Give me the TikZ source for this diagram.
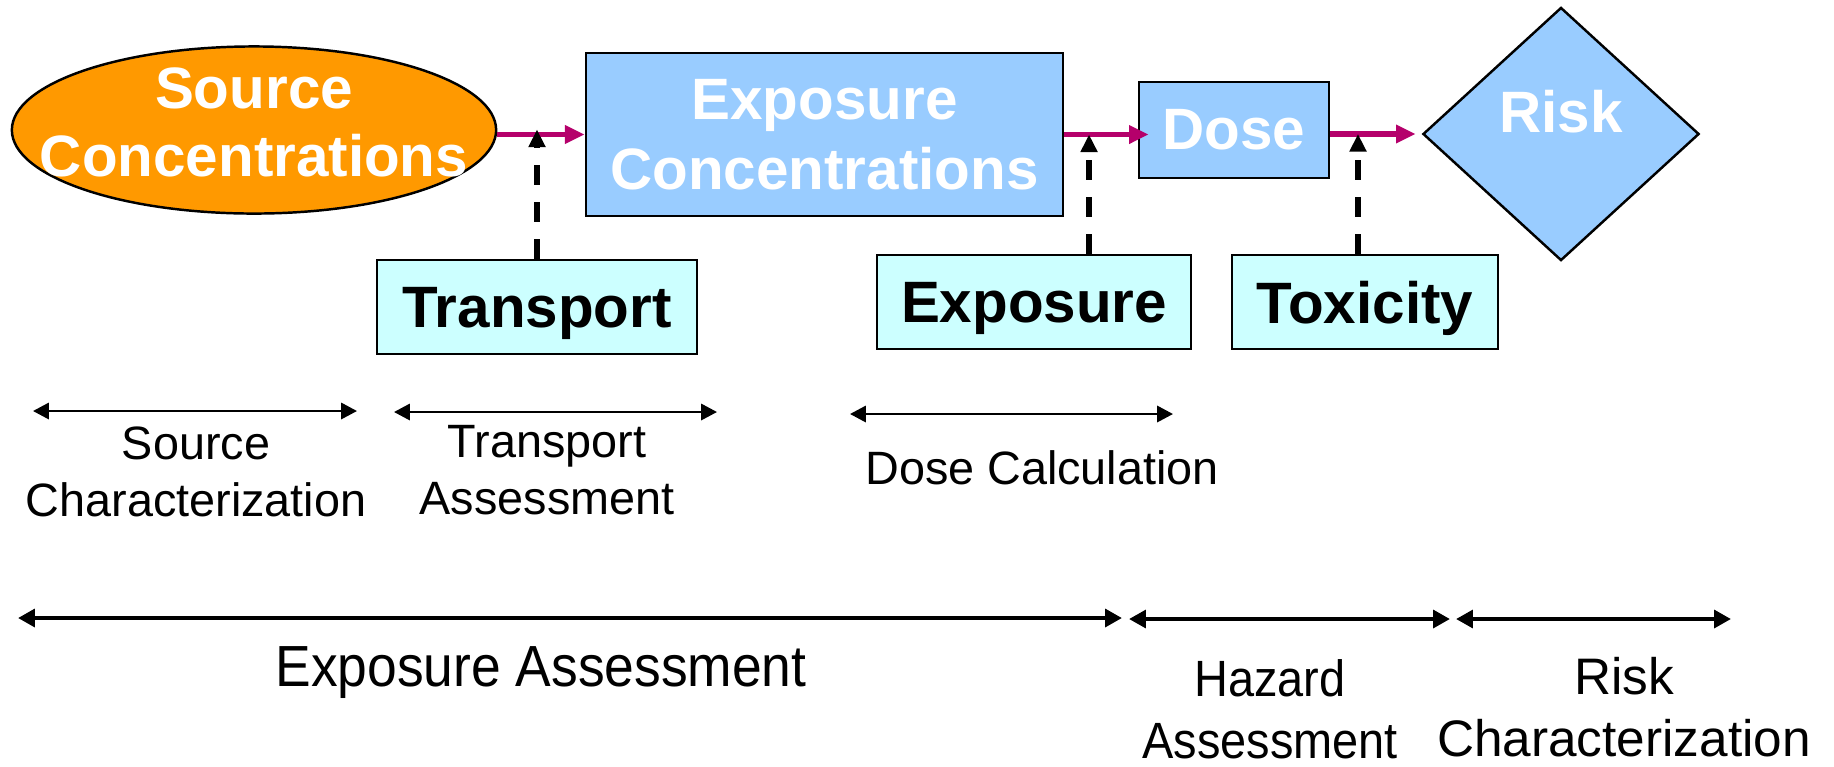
\documentclass[tikz,border=0pt]{standalone}
\usepackage{fontspec}
\setmainfont{Liberation Sans}
\newfontfamily\condsans[FakeStretch=0.92]{Liberation Sans}
\usetikzlibrary{arrows.meta, shapes.geometric}

\definecolor{srcorange}{RGB}{255,153,0}
\definecolor{boxblue}{RGB}{153,204,255}
\definecolor{boxcyan}{RGB}{204,255,255}
\definecolor{flowmag}{RGB}{181,0,107}

\begin{document}
\begin{tikzpicture}[x=0.01cm, y=-0.01cm,
    bigbox/.style={draw, line width=0.7pt, fill=boxblue, inner sep=0pt, text=white,
      font=\fontsize{16.6}{19.9}\selectfont\bfseries, align=center},
    stepbox/.style={draw, line width=0.7pt, fill=boxcyan, inner sep=0pt, minimum height=0.94cm,
      text depth=0pt, font=\fontsize{16.6}{19.9}\selectfont\bfseries},
    flow/.style={-{Triangle[length=5.6pt, width=5pt]}, flowmag, line width=1.5pt},
    feed/.style={-{Triangle[length=5pt, width=4.6pt]}, dash pattern=on 0.2cm off 0.17cm, line width=1.6pt},
    thinspan/.style={{Triangle[length=4.5pt, width=4.6pt]}-{Triangle[length=4.5pt, width=4.6pt]}, line width=0.7pt},
    thickspan/.style={{Triangle[length=4.8pt, width=5pt]}-{Triangle[length=4.8pt, width=5pt]}, line width=1.4pt},
    spanlbl/.style={font=\fontsize{13.3}{16.2}\selectfont, align=center}]
    \useasboundingbox (0,0) rectangle (1834,766);

    % Chuoi chinh: nguon -> phoi nhiem -> lieu -> rui ro
    \node[ellipse, draw, line width=0.7pt, fill=srcorange, minimum width=4.84cm, minimum height=1.67cm, inner sep=0pt] (src) at (254,130) {};
    \node[text=white, font=\fontsize{16.6}{19.3}\selectfont\bfseries, align=center] (srctxt) at (254,122) {Source\\Concentrations};
    \node[bigbox, minimum width=4.77cm, minimum height=1.63cm] (expc) at (824.5,134.5) {Exposure\\Concentrations};
    \node[bigbox, minimum width=1.90cm, minimum height=0.96cm] (dose) at (1234,130) {Dose};
    \node[diamond, draw, line width=0.7pt, fill=boxblue, minimum width=2.76cm, minimum height=2.53cm, inner sep=0pt] (risk) at (1561,134) {};
    \node[text=white, font=\fontsize{16.6}{19.9}\selectfont\bfseries] (risktxt) at (1561,112) {Risk};

    % Cac buoc trung gian
    \node[stepbox, minimum width=3.20cm] (trans) at (537,307) {Transport};
    \node[stepbox, minimum width=3.14cm] (expo) at (1034,302) {Exposure};
    \node[stepbox, minimum width=2.66cm] (tox) at (1365,302) {Toxicity};

    % Mui ten mau tim
    \draw[flow] (src.east |- expc.west) -- (expc.west);
    \draw[flow, shorten >=-0.11cm] (expc.east) -- (expc.east -| dose.west);
    \draw[flow, shorten >=0.06cm] (dose.east |- risk.west) -- (risk.west);

    % Mui ten net dut tu cac buoc
    \coordinate (expotop) at ([xshift=0.55cm]expo.north);
    \coordinate (toxtop) at ([xshift=-0.07cm]tox.north);
    \draw[feed, shorten >=-0.05cm] (trans.north) -- (trans.north |- expc.west);
    \draw[feed] (expotop) -- (expotop |- expc.east);
    \draw[feed] (toxtop) -- (toxtop |- risk.west);

    % Pham vi tung giai doan
    \draw[thinspan] (33,411) -- (357,411);
    \draw[thinspan] (394,412) -- (717,412);
    \draw[thinspan] (850,414) -- (1173,414);
    \node[spanlbl] (srcchar) at (196,472) {Source\\Characterization};
    \node[spanlbl] (transass) at (547,470) {Transport\\Assessment};
    \node[spanlbl] (dosecalc) at (1042,468) {Dose Calculation};

    % Pham vi tong the
    \draw[thickspan] (18,618) -- (1122,618);
    \draw[thickspan] (1129,619) -- (1450,619);
    \draw[thickspan] (1456,619) -- (1731,619);
    \node[font=\condsans\fontsize{16.5}{19}\selectfont] (expass) at (541,673) {Exposure Assessment};
    \node[font=\condsans\fontsize{14.5}{17.6}\selectfont, align=center] (hazass) at (1270,709) {Hazard\\Assessment};
    \node[font=\fontsize{14.6}{17.6}\selectfont, align=center] (riskchar) at (1624,707) {Risk\\Characterization};
\end{tikzpicture}
\end{document}
